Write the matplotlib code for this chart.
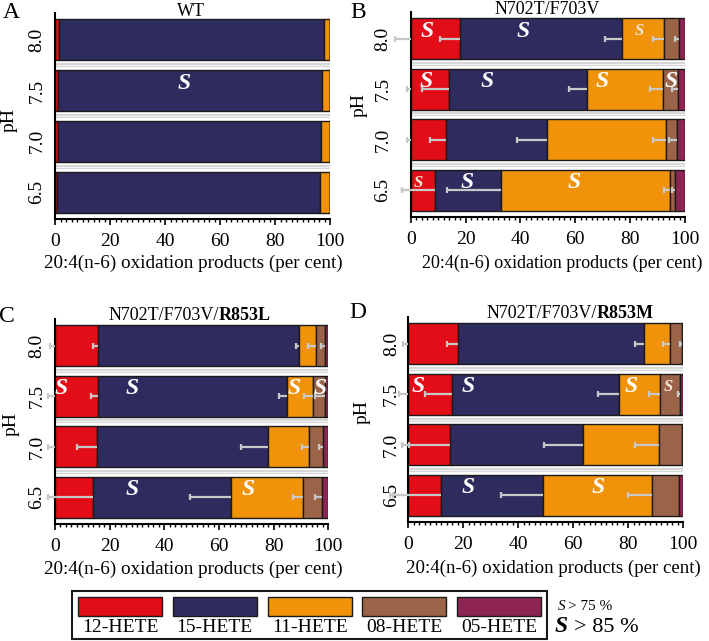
import matplotlib.pyplot as plt
from matplotlib.patches import Rectangle
from matplotlib.ticker import MultipleLocator
import numpy as np

plt.rcParams['font.family'] = 'serif'
plt.rcParams['font.serif'] = ['Liberation Serif', 'DejaVu Serif']

# pH rows, top to bottom
ph_labels = ['8.0', '7.5', '7.0', '6.5']
products = ['12-HETE', '15-HETE', '11-HETE', '08-HETE', '05-HETE']
colors = ['#e30d18', '#2e2b5f', '#f0930a', '#9b6448', '#8e2453']

# per cent of each product (12, 15, 11, 08, 05) for each pH row
wt_pct = [[1.3, 96.5, 2.2, 0, 0],
          [1.2, 95.9, 2.9, 0, 0],
          [1.2, 95.4, 3.4, 0, 0],
          [0.8, 95.4, 3.8, 0, 0]]
b_pct = [[18.0, 58.9, 15.4, 5.6, 2.1],
         [14.0, 50.3, 27.8, 5.5, 2.4],
         [12.8, 36.8, 43.5, 3.9, 3.0],
         [8.9, 24.0, 61.6, 1.9, 3.6]]
c_pct = [[15.9, 73.5, 6.0, 3.4, 1.2],
         [15.9, 69.1, 9.3, 4.5, 1.2],
         [15.2, 62.8, 15.0, 4.9, 2.1],
         [14.0, 50.3, 26.6, 6.7, 2.4]]
d_pct = [[18.2, 67.5, 9.5, 4.2, 0.6],
         [15.8, 60.8, 15.0, 7.2, 1.2],
         [15.2, 48.2, 27.9, 8.1, 0.6],
         [11.8, 37.0, 39.8, 9.9, 1.5]]

# error (s.d.) drawn leftward: [at 0, 12, 15, 11, 08]
b_err = [[5.7, 7.3, 6.1, 4.1, 1.5],
         [1.5, 9.7, 6.6, 4.9, 2.5],
         [1.2, 5.8, 11.0, 4.9, 2.7],
         [3.0, 11.9, 19.5, 2.2, 1.0]]
c_err = [[2.0, 1.9, 1.2, 2.7, 1.5],
         [2.4, 2.9, 3.0, 3.2, 3.6],
         [2.4, 7.0, 10.0, 2.8, 1.2],
         [2.4, 16.4, 14.9, 3.7, 2.5]]
d_err = [[2.0, 4.3, 3.3, 2.5, 0.6],
         [3.3, 9.7, 7.5, 4.0, 0.6],
         [2.4, 14.8, 14.1, 8.9, 0],
         [6.7, 17.3, 15.1, 8.6, 0]]

# stereo marks: (row, x, big)
wt_s = [(1, 47, True)]
b_s = [(0, 6.1, True), (0, 41, True), (0, 83.4, False),
       (1, 5.6, True), (1, 27.7, True), (1, 69.9, True), (1, 94.8, True),
       (3, 2.8, False), (3, 20.7, True), (3, 59.5, True)]
c_s = [(1, 2.4, True), (1, 28.4, True), (1, 87.6, True), (1, 97, True),
       (3, 28.4, True), (3, 70.5, True)]
d_s = [(1, 3.6, True), (1, 21.8, True), (1, 81, True), (1, 94.5, False),
       (3, 21.8, True), (3, 69, True)]

W, H = 709, 641
fig = plt.figure(figsize=(W / 100, H / 100), dpi=100)

# overlay in pixel coords for free text and legend
ov = fig.add_axes([0, 0, 1, 1], zorder=5)
ov.set_xlim(0, W)
ov.set_ylim(H, 0)
ov.axis('off')


def panel(x0, x1, ytop, ybot, pct, err, smarks, ypad):
    ax = fig.add_axes([x0 / W, 1 - ybot / H, (x1 - x0) / W, (ybot - ytop) / H])
    pct = np.array(pct, dtype=float)
    ys = np.arange(len(ph_labels))[::-1]
    left = np.zeros(len(ph_labels))
    for j in range(len(products)):
        ax.barh(ys, pct[:, j], left=left, height=0.81, color=colors[j],
                edgecolor='#1a1a1a', linewidth=1.0, zorder=2)
        left = left + pct[:, j]
    for b in [0.5, 1.5, 2.5]:
        ax.axhline(b, color='#d6d6d6', lw=3, zorder=1)
        ax.axhline(b, color='#f2f2f2', lw=0.8, zorder=1)
    if err is not None:
        ends = np.hstack([np.zeros((len(ys), 1)), np.cumsum(pct[:, :4], axis=1)])
        err = np.array(err, dtype=float)
        for i, y in enumerate(ys):
            for j in range(5):
                if err[i, j] <= 0:
                    continue
                x_end = ends[i, j]
                ax.plot([x_end - err[i, j], x_end], [y, y], color='#c8c8c8',
                        lw=1.6, zorder=3, clip_on=False, solid_capstyle='butt')
                ax.plot([x_end - err[i, j]], [y], marker='|', ms=5, mew=1.6,
                        color='#c8c8c8', zorder=3, clip_on=False)
    for row, x, big in smarks:
        ax.text(x, ys[row] + 0.15, 'S', ha='center', va='center',
                fontsize=17 if big else 12, fontweight='bold', style='italic',
                color='white' if big else '#f3e6d6', zorder=4)
    ax.set_xlim(0, 100)
    ax.set_ylim(-0.53, 3.53)
    ax.xaxis.set_major_locator(MultipleLocator(20))
    ax.xaxis.set_minor_locator(MultipleLocator(2))
    ax.tick_params(axis='x', which='major', length=4, width=1.2, labelsize=14, pad=6)
    ax.tick_params(axis='x', which='minor', length=2, width=1)
    ax.set_yticks(ys)
    ax.set_yticklabels(ph_labels, rotation=90, va='center', fontsize=14)
    ax.tick_params(axis='y', length=0, pad=ypad)
    for s in ['top', 'right']:
        ax.spines[s].set_visible(False)
    ax.spines['left'].set_linewidth(1.5)
    ax.spines['bottom'].set_linewidth(1.5)
    return ax


panel(55, 330, 13, 219, wt_pct, None, wt_s, 7)
panel(410.7, 685, 12, 217, b_pct, b_err, b_s, 14)
panel(55, 328.3, 319, 524, c_pct, c_err, c_s, 7)
panel(408.3, 683.3, 317, 522, d_pct, d_err, d_s, 6)

# panel letters, titles, axis labels
for letter, x, y in [('A', 11, 12), ('B', 358, 12), ('C', 7, 316), ('D', 358, 313)]:
    ov.text(x, y, letter, ha='center', va='center', fontsize=17)
ov.text(191, 11, 'WT', ha='center', va='center', fontsize=13)
ov.text(547, 10, 'N702T/F703V', ha='center', va='center', fontsize=13)
ov.text(219, 316, 'N702T/F703V/', ha='right', va='center', fontsize=13)
ov.text(219, 316, 'R853L', ha='left', va='center', fontsize=13, fontweight='bold')
ov.text(597, 314, 'N702T/F703V/', ha='right', va='center', fontsize=13)
ov.text(597, 314, 'R853M', ha='left', va='center', fontsize=13, fontweight='bold')

xlab = '20:4(n-6) oxidation products (per cent)'
for x, y, fs in [(193, 263, 13.8), (562, 263, 13), (193, 569, 13.8), (553, 568, 13.6)]:
    ov.text(x, y, xlab, ha='center', va='center', fontsize=fs)
for x, y in [(9, 120), (359, 105), (11, 424), (362, 412)]:
    ov.text(x, y, 'pH', ha='center', va='center', rotation=90, fontsize=14)

# legend
ov.add_patch(Rectangle((72, 591), 475, 48, facecolor='white', edgecolor='#1a1a1a', lw=1.5))
for i, (name, c) in enumerate(zip(products, colors)):
    x = 78 + i * 94.8
    ov.add_patch(Rectangle((x, 597), 84, 19, facecolor=c, edgecolor='#1a1a1a', lw=1.0))
    ov.text(x + 42, 628, name, ha='center', va='center', fontsize=14)
ov.text(558, 606, 'S', ha='left', va='center', fontsize=11, style='italic')
ov.text(568, 606, '> 75 %', ha='left', va='center', fontsize=11)
ov.text(555, 627, 'S', ha='left', va='center', fontsize=17, style='italic', fontweight='bold')
ov.text(574, 627, '> 85 %', ha='left', va='center', fontsize=16)

fig.savefig('out.png', dpi=100)
